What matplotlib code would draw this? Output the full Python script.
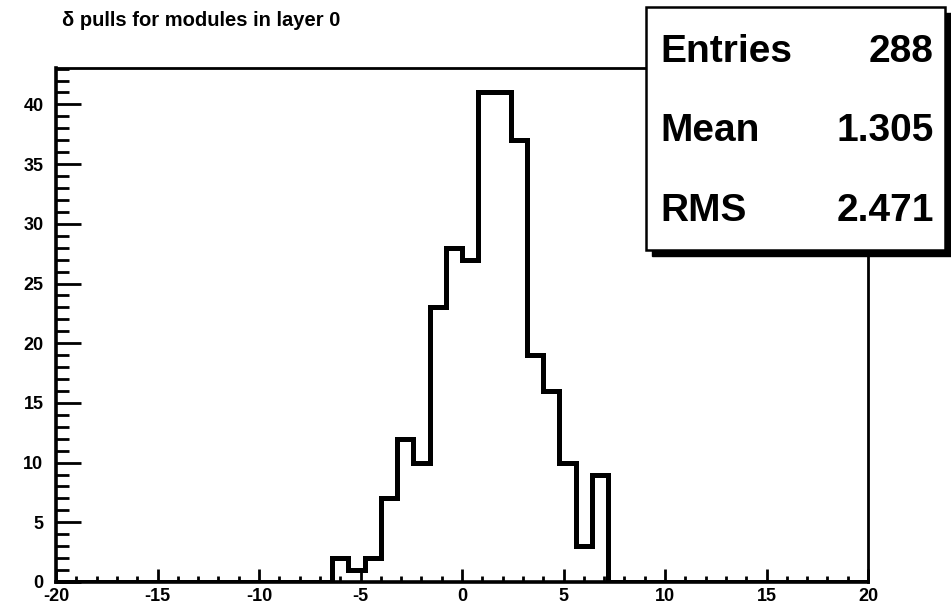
import numpy as np
import matplotlib
matplotlib.use("Agg")
import matplotlib.pyplot as plt
from matplotlib.patches import Rectangle
from matplotlib.ticker import MultipleLocator

# Histogram binning and contents (50 bins over [-20, 20])
x_min, x_max, n_bins = -20.0, 20.0, 50
counts = [0, 0, 0, 0, 0, 0, 0, 0, 0, 0,
          0, 0, 0, 0, 0, 0, 0, 2, 1, 2,
          7, 12, 10, 23, 28, 27, 41, 41, 37, 19,
          16, 10, 3, 9, 0, 0, 0, 0, 0, 0,
          0, 0, 0, 0, 0, 0, 0, 0, 0, 0]

title = "\u03b4 pulls for modules in layer 0"
stat_mean = "1.305"
stat_rms = "2.471"
x_ticks = [-20, -15, -10, -5, 0, 5, 10, 15, 20]
y_ticks = [0, 5, 10, 15, 20, 25, 30, 35, 40]

W, H = 951, 612
plt.rcParams['font.family'] = ['Liberation Sans', 'DejaVu Sans']

fig = plt.figure(figsize=(W / 100, H / 100), dpi=100)


def fx(px):
    return px / W


def fy(py):
    return 1 - py / H


ax = fig.add_axes([fx(56), fy(582), fx(868) - fx(56), fy(68) - fy(582)])

edges = np.linspace(x_min, x_max, n_bins + 1)
vals = np.asarray(counts, dtype=float)
ax.stairs(vals, edges, baseline=None, color='black', linewidth=3.6)

ax.set_xlim(x_min, x_max)
ax.set_ylim(0, 1.05 * vals.max())

ax.set_xticks(x_ticks)
ax.set_yticks(y_ticks)
ax.xaxis.set_minor_locator(MultipleLocator(1))
ax.yaxis.set_minor_locator(MultipleLocator(1))
ax.tick_params(axis='x', which='major', direction='in', length=9.5, width=2.0,
               labelsize=13, pad=4, top=False)
ax.tick_params(axis='x', which='minor', direction='in', length=4.0, width=2.0, top=False)
ax.tick_params(axis='y', which='major', direction='in', length=18, width=2.0,
               labelsize=13, pad=9, right=False)
ax.tick_params(axis='y', which='minor', direction='in', length=9.5, width=2.0, right=False)
ax.set_xticklabels([str(t) for t in x_ticks], fontweight='bold', fontsize=13)
ax.set_yticklabels([str(t) for t in y_ticks], fontweight='bold', fontsize=13)

for side in ['left', 'bottom']:
    ax.spines[side].set_linewidth(2.6)
for side in ['top', 'right']:
    ax.spines[side].set_linewidth(2.0)

fig.text(fx(62), fy(20), title, fontsize=14.5, fontweight='bold',
         ha='left', va='center')

# Statistics box with drop shadow
bx0, by0, bx1, by1 = 646, 7, 945, 250
sh = 6
fig.patches.append(Rectangle((fx(bx0 + sh), fy(by1 + sh)),
                             fx(bx1 - bx0), fy(by0) - fy(by1),
                             transform=fig.transFigure, facecolor='black',
                             edgecolor='black', zorder=5))
fig.patches.append(Rectangle((fx(bx0), fy(by1)), fx(bx1 - bx0), fy(by0) - fy(by1),
                             transform=fig.transFigure, facecolor='white',
                             edgecolor='black', linewidth=1.8, zorder=6))

rows = [("Entries", str(int(vals.sum())), 52),
        ("Mean", stat_mean, 131),
        ("RMS", stat_rms, 211)]
for name, value, py in rows:
    fig.text(fx(660), fy(py), name, fontsize=28, fontweight='bold',
             ha='left', va='center', zorder=7)
    fig.text(fx(934), fy(py), value, fontsize=28, fontweight='bold',
             ha='right', va='center', zorder=7)

fig.savefig("out.png", dpi=100)
